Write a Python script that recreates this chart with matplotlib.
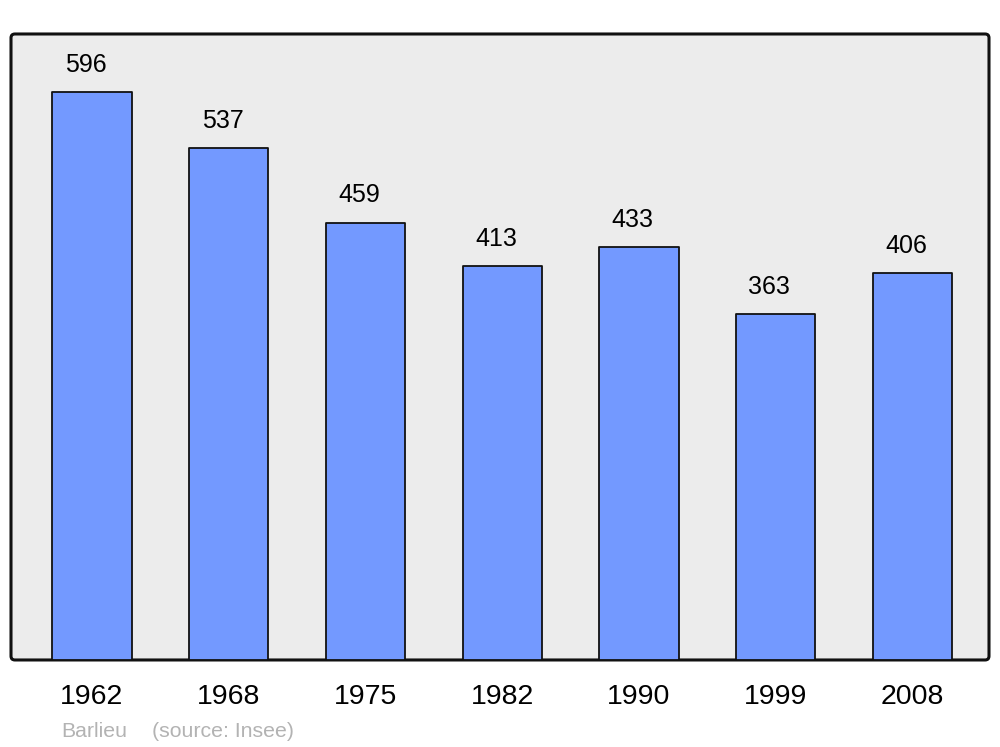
import matplotlib
matplotlib.use("Agg")
import matplotlib.pyplot as plt
from matplotlib.patches import FancyBboxPatch

years = ['1962', '1968', '1975', '1982', '1990', '1999', '2008']
population = [596, 537, 459, 413, 433, 363, 406]

plt.rcParams['font.family'] = ['Liberation Sans', 'DejaVu Sans']

fig = plt.figure(figsize=(10, 7.47), dpi=100)
ax = fig.add_axes([0.011, 0.1165, 0.978, 0.838])

# background frame with rounded corners
ax.patch.set_visible(False)
for s in ax.spines.values():
    s.set_visible(False)
frame = FancyBboxPatch((0, 0), 1, 1, boxstyle="round,pad=0,rounding_size=0.004",
                       mutation_aspect=978 / 626, transform=ax.transAxes,
                       facecolor='#ececec', edgecolor='#111111', linewidth=2.2,
                       clip_on=False, zorder=0)
ax.add_patch(frame)

x = range(len(years))
bars = ax.bar(x, population, width=0.58, color='#7399ff', edgecolor='#111111',
              linewidth=1.3, zorder=2)
for b in bars:
    b.set_joinstyle('round')

for xi, v in zip(x, population):
    ax.annotate(str(v), (xi, v), xytext=(-4.5, 11), textcoords='offset points',
                ha='center', va='bottom', fontsize=18, color='black')

ax.set_xlim(-0.592, 6.56)
ax.set_ylim(0, 657)
ax.set_xticks(list(x))
ax.set_xticklabels(years, fontsize=20.5)
for t in ax.get_xticklabels():
    t.set_x(t.get_position()[0])
ax.tick_params(axis='x', length=0, pad=17)
ax.set_yticks([])

fig.text(0.061, 0.014, 'Barlieu', fontsize=15.3, color='#b3b3b3')
fig.text(0.152, 0.014, '(source: Insee)', fontsize=15.3, color='#b3b3b3')

fig.savefig('out.png', dpi=100)
